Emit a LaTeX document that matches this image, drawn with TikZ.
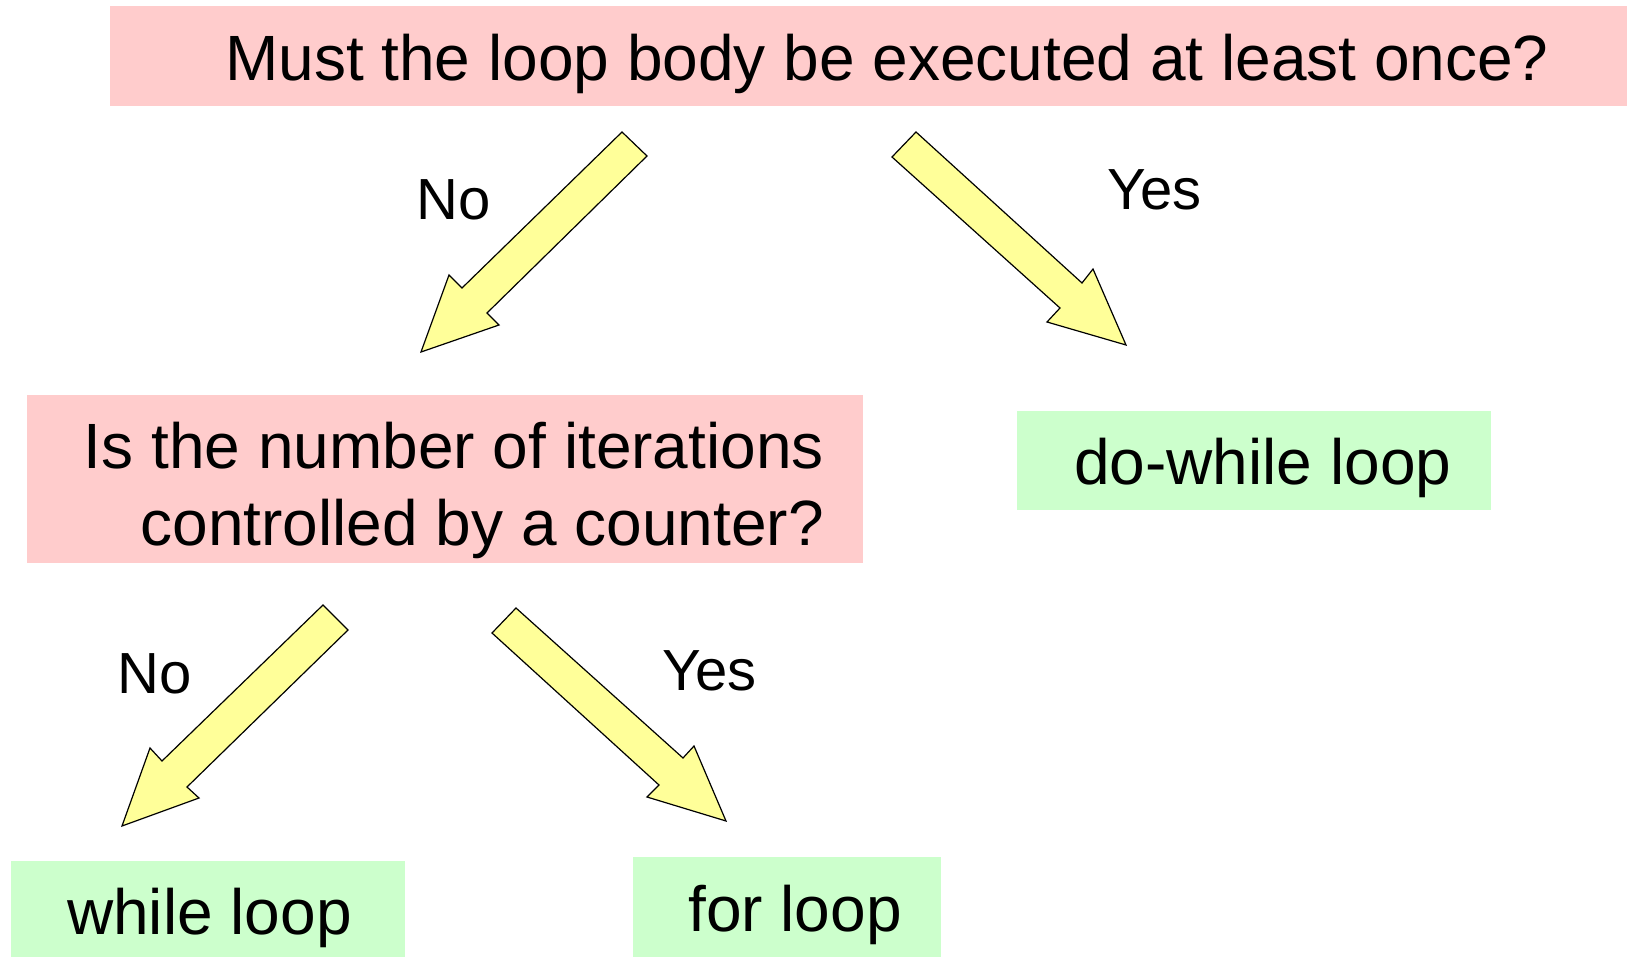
\documentclass[tikz,border=0pt]{standalone}
\usepackage{fontspec}
\setmainfont{Liberation Sans}
\definecolor{askpink}{RGB}{255,204,204}
\definecolor{answergreen}{RGB}{204,255,204}
\definecolor{arrowyellow}{RGB}{255,255,153}
\tikzset{
  question/.style={fill=askpink, draw=none, inner sep=0pt, anchor=north west},
  answer/.style={fill=answergreen, draw=none, inner sep=0pt, anchor=north west},
  bigtext/.style={font=\fontsize{64}{76}\selectfont, inner sep=0pt},
  choice/.style={font=\fontsize{58}{70}\selectfont, inner sep=0pt, anchor=base west},
  blockarrow/.style={fill=arrowyellow, draw=black, line width=1.2pt, line join=miter},
}
\begin{document}
\begin{tikzpicture}[x=1pt,y=-1pt]
\useasboundingbox (0,0) rectangle (1627,957);

% boxes
\node[question, minimum width=1517pt, minimum height=100pt] (q1) at (110,6) {};
\node[question, minimum width=836pt, minimum height=168pt] (q2) at (27,395) {};
\node[answer, minimum width=474pt, minimum height=99pt] (dowhile) at (1017,411) {};
\node[answer, minimum width=394pt, minimum height=96pt] (while) at (11,861) {};
\node[answer, minimum width=308pt, minimum height=100pt] (for) at (633,857) {};

% texts
\node[bigtext, anchor=base west] (q1t) at (225,81) {Must the loop body be executed at least once?};
\node[bigtext, anchor=base east] (q2ta) at (824,468) {Is the number of iterations};
\node[bigtext, anchor=base east] (q2tb) at (824,545) {controlled by a counter?};
\node[bigtext, anchor=base west] (dowhilet) at (1074,484) {do-while loop};
\node[bigtext, anchor=base west] (whilet) at (67,934) {while loop};
\node[bigtext, anchor=base west] (fort) at (688,931) {for loop};

% block arrows
\draw[blockarrow] (622,132) -- (647,156) -- (487,313) -- (499,325) -- (421,352) -- (449,275) -- (462,288) -- cycle;
\draw[blockarrow] (916,132) -- (892,157) -- (1060,308) -- (1047,322) -- (1126,345) -- (1093,269) -- (1082,283) -- cycle;
\draw[blockarrow] (323,605) -- (348,630) -- (187,787) -- (199,798) -- (122,826) -- (150,748) -- (162,761) -- cycle;
\draw[blockarrow] (516,608) -- (492,633) -- (659,785) -- (647,797) -- (726,821) -- (694,746) -- (683,758) -- cycle;

% answer labels
\node[choice] (no1) at (416,220) {No};
\node[choice] (yes1) at (1107,210) {Yes};
\node[choice] (no2) at (117,693) {No};
\node[choice] (yes2) at (662,690) {Yes};
\end{tikzpicture}
\end{document}
